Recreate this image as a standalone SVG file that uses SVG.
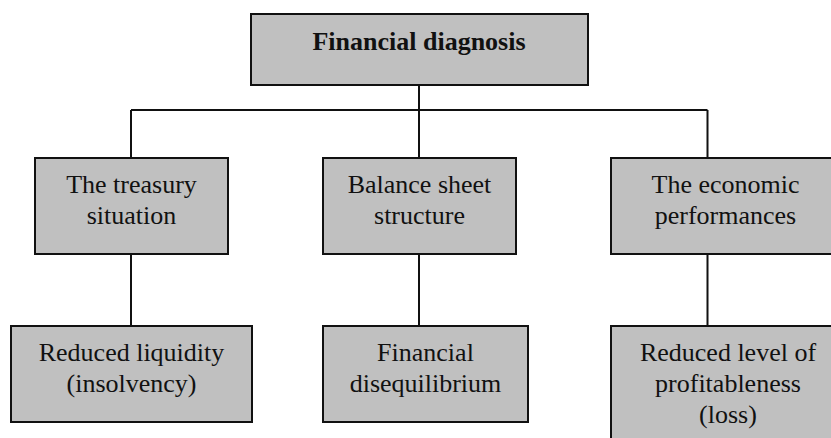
<svg xmlns="http://www.w3.org/2000/svg" width="831" height="438" viewBox="0 0 831 438">
<style>
.box{fill:#c0c0c0;stroke:#111;stroke-width:2}
.t{font-family:"Liberation Serif","Times New Roman",serif;font-size:26px;fill:#111;text-anchor:middle}
.b{font-weight:bold}
.c{fill:none;stroke:#111;stroke-width:2}
</style>
<rect width="831" height="438" fill="#fff"/>
<g id="connectors">
<path class="c" d="M419 85V110M131 110H707.5M131 110V158M419 110V158M707.5 110V158M131 254V326M419 254V326M707.5 254V326"/>
</g>
<g id="root">
<rect class="box" x="251" y="14" width="337" height="71"/>
<text class="t b" x="419" y="50">Financial diagnosis</text>
</g>
<g id="treasury">
<rect class="box" x="35" y="158" width="193" height="96"/>
<text class="t" x="131.5" y="193">The treasury</text>
<text class="t" x="131.5" y="224">situation</text>
</g>
<g id="balance">
<rect class="box" x="323" y="158" width="193" height="96"/>
<text class="t" x="419.5" y="193">Balance sheet</text>
<text class="t" x="419.5" y="224">structure</text>
</g>
<g id="economic">
<rect class="box" x="611" y="158" width="229" height="96"/>
<text class="t" x="725.5" y="193">The economic</text>
<text class="t" x="725.5" y="224">performances</text>
</g>
<g id="liquidity">
<rect class="box" x="11" y="326" width="241" height="96"/>
<text class="t" x="131.5" y="361">Reduced liquidity</text>
<text class="t" x="131.5" y="392">(insolvency)</text>
</g>
<g id="disequilibrium">
<rect class="box" x="323" y="326" width="205" height="96"/>
<text class="t" x="425.5" y="361">Financial</text>
<text class="t" x="425.5" y="392">disequilibrium</text>
</g>
<g id="profitableness">
<rect class="box" x="611" y="326" width="234" height="130"/>
<text class="t" x="728" y="361">Reduced level of</text>
<text class="t" x="728" y="392">profitableness</text>
<text class="t" x="728" y="423">(loss)</text>
</g>
</svg>
